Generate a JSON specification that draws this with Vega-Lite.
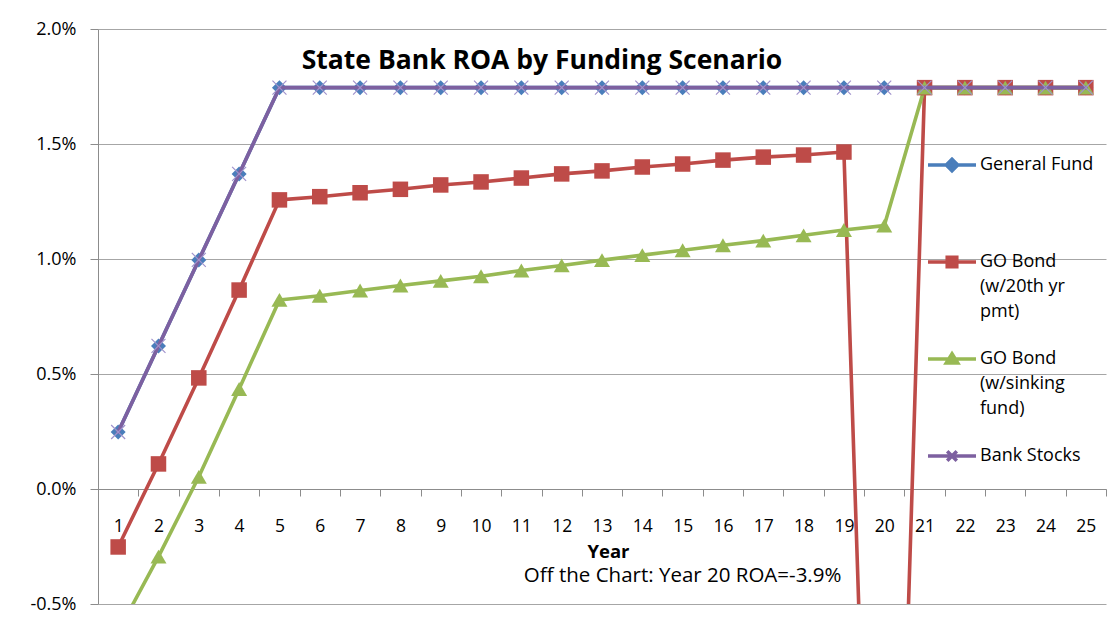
{
  "$schema": "https://vega.github.io/schema/vega-lite/v6.json",
  "width": 1008,
  "height": 575,
  "autosize": {"type": "none"},
  "padding": {"left": 98, "top": 29, "right": 9, "bottom": 27},
  "background": "white",
  "config": {"view": {"stroke": null}, "font": "Open Sans"},
  "title": {"text": "State Bank ROA by Funding Scenario", "font": "Open Sans", "fontSize": 26.5, "fontWeight": "bold", "color": "#000000", "anchor": "middle", "dx": -60, "dy": 38, "offset": -29, "baseline": "middle"},
  "data": {"values": [
    {"year": 1, "series": "General Fund", "roa": 0.00248},
    {"year": 2, "series": "General Fund", "roa": 0.00622},
    {"year": 3, "series": "General Fund", "roa": 0.00996},
    {"year": 4, "series": "General Fund", "roa": 0.0137},
    {"year": 5, "series": "General Fund", "roa": 0.01745},
    {"year": 6, "series": "General Fund", "roa": 0.01745},
    {"year": 7, "series": "General Fund", "roa": 0.01745},
    {"year": 8, "series": "General Fund", "roa": 0.01745},
    {"year": 9, "series": "General Fund", "roa": 0.01745},
    {"year": 10, "series": "General Fund", "roa": 0.01745},
    {"year": 11, "series": "General Fund", "roa": 0.01745},
    {"year": 12, "series": "General Fund", "roa": 0.01745},
    {"year": 13, "series": "General Fund", "roa": 0.01745},
    {"year": 14, "series": "General Fund", "roa": 0.01745},
    {"year": 15, "series": "General Fund", "roa": 0.01745},
    {"year": 16, "series": "General Fund", "roa": 0.01745},
    {"year": 17, "series": "General Fund", "roa": 0.01745},
    {"year": 18, "series": "General Fund", "roa": 0.01745},
    {"year": 19, "series": "General Fund", "roa": 0.01745},
    {"year": 20, "series": "General Fund", "roa": 0.01745},
    {"year": 21, "series": "General Fund", "roa": 0.01745},
    {"year": 22, "series": "General Fund", "roa": 0.01745},
    {"year": 23, "series": "General Fund", "roa": 0.01745},
    {"year": 24, "series": "General Fund", "roa": 0.01745},
    {"year": 25, "series": "General Fund", "roa": 0.01745},
    {"year": 1, "series": "GO Bond (w/20th yr pmt)", "roa": -0.00252},
    {"year": 2, "series": "GO Bond (w/20th yr pmt)", "roa": 0.00109},
    {"year": 3, "series": "GO Bond (w/20th yr pmt)", "roa": 0.00483},
    {"year": 4, "series": "GO Bond (w/20th yr pmt)", "roa": 0.00865},
    {"year": 5, "series": "GO Bond (w/20th yr pmt)", "roa": 0.01257},
    {"year": 6, "series": "GO Bond (w/20th yr pmt)", "roa": 0.01271},
    {"year": 7, "series": "GO Bond (w/20th yr pmt)", "roa": 0.01288},
    {"year": 8, "series": "GO Bond (w/20th yr pmt)", "roa": 0.01303},
    {"year": 9, "series": "GO Bond (w/20th yr pmt)", "roa": 0.01322},
    {"year": 10, "series": "GO Bond (w/20th yr pmt)", "roa": 0.01335},
    {"year": 11, "series": "GO Bond (w/20th yr pmt)", "roa": 0.01352},
    {"year": 12, "series": "GO Bond (w/20th yr pmt)", "roa": 0.0137},
    {"year": 13, "series": "GO Bond (w/20th yr pmt)", "roa": 0.01383},
    {"year": 14, "series": "GO Bond (w/20th yr pmt)", "roa": 0.014},
    {"year": 15, "series": "GO Bond (w/20th yr pmt)", "roa": 0.01413},
    {"year": 16, "series": "GO Bond (w/20th yr pmt)", "roa": 0.0143},
    {"year": 17, "series": "GO Bond (w/20th yr pmt)", "roa": 0.01443},
    {"year": 18, "series": "GO Bond (w/20th yr pmt)", "roa": 0.01452},
    {"year": 19, "series": "GO Bond (w/20th yr pmt)", "roa": 0.01465},
    {"year": 20, "series": "GO Bond (w/20th yr pmt)", "roa": -0.039},
    {"year": 21, "series": "GO Bond (w/20th yr pmt)", "roa": 0.01745},
    {"year": 22, "series": "GO Bond (w/20th yr pmt)", "roa": 0.01745},
    {"year": 23, "series": "GO Bond (w/20th yr pmt)", "roa": 0.01745},
    {"year": 24, "series": "GO Bond (w/20th yr pmt)", "roa": 0.01745},
    {"year": 25, "series": "GO Bond (w/20th yr pmt)", "roa": 0.01745},
    {"year": 1, "series": "GO Bond (w/sinking fund)", "roa": -0.0062},
    {"year": 2, "series": "GO Bond (w/sinking fund)", "roa": -0.00294},
    {"year": 3, "series": "GO Bond (w/sinking fund)", "roa": 0.00053},
    {"year": 4, "series": "GO Bond (w/sinking fund)", "roa": 0.00435},
    {"year": 5, "series": "GO Bond (w/sinking fund)", "roa": 0.00822},
    {"year": 6, "series": "GO Bond (w/sinking fund)", "roa": 0.0084},
    {"year": 7, "series": "GO Bond (w/sinking fund)", "roa": 0.00863},
    {"year": 8, "series": "GO Bond (w/sinking fund)", "roa": 0.00885},
    {"year": 9, "series": "GO Bond (w/sinking fund)", "roa": 0.00905},
    {"year": 10, "series": "GO Bond (w/sinking fund)", "roa": 0.00925},
    {"year": 11, "series": "GO Bond (w/sinking fund)", "roa": 0.0095},
    {"year": 12, "series": "GO Bond (w/sinking fund)", "roa": 0.00972},
    {"year": 13, "series": "GO Bond (w/sinking fund)", "roa": 0.00995},
    {"year": 14, "series": "GO Bond (w/sinking fund)", "roa": 0.01017},
    {"year": 15, "series": "GO Bond (w/sinking fund)", "roa": 0.01038},
    {"year": 16, "series": "GO Bond (w/sinking fund)", "roa": 0.0106},
    {"year": 17, "series": "GO Bond (w/sinking fund)", "roa": 0.0108},
    {"year": 18, "series": "GO Bond (w/sinking fund)", "roa": 0.01103},
    {"year": 19, "series": "GO Bond (w/sinking fund)", "roa": 0.01126},
    {"year": 20, "series": "GO Bond (w/sinking fund)", "roa": 0.01145},
    {"year": 21, "series": "GO Bond (w/sinking fund)", "roa": 0.01745},
    {"year": 22, "series": "GO Bond (w/sinking fund)", "roa": 0.01745},
    {"year": 23, "series": "GO Bond (w/sinking fund)", "roa": 0.01745},
    {"year": 24, "series": "GO Bond (w/sinking fund)", "roa": 0.01745},
    {"year": 25, "series": "GO Bond (w/sinking fund)", "roa": 0.01745},
    {"year": 1, "series": "Bank Stocks", "roa": 0.00248},
    {"year": 2, "series": "Bank Stocks", "roa": 0.00622},
    {"year": 3, "series": "Bank Stocks", "roa": 0.00996},
    {"year": 4, "series": "Bank Stocks", "roa": 0.0137},
    {"year": 5, "series": "Bank Stocks", "roa": 0.01745},
    {"year": 6, "series": "Bank Stocks", "roa": 0.01745},
    {"year": 7, "series": "Bank Stocks", "roa": 0.01745},
    {"year": 8, "series": "Bank Stocks", "roa": 0.01745},
    {"year": 9, "series": "Bank Stocks", "roa": 0.01745},
    {"year": 10, "series": "Bank Stocks", "roa": 0.01745},
    {"year": 11, "series": "Bank Stocks", "roa": 0.01745},
    {"year": 12, "series": "Bank Stocks", "roa": 0.01745},
    {"year": 13, "series": "Bank Stocks", "roa": 0.01745},
    {"year": 14, "series": "Bank Stocks", "roa": 0.01745},
    {"year": 15, "series": "Bank Stocks", "roa": 0.01745},
    {"year": 16, "series": "Bank Stocks", "roa": 0.01745},
    {"year": 17, "series": "Bank Stocks", "roa": 0.01745},
    {"year": 18, "series": "Bank Stocks", "roa": 0.01745},
    {"year": 19, "series": "Bank Stocks", "roa": 0.01745},
    {"year": 20, "series": "Bank Stocks", "roa": 0.01745},
    {"year": 21, "series": "Bank Stocks", "roa": 0.01745},
    {"year": 22, "series": "Bank Stocks", "roa": 0.01745},
    {"year": 23, "series": "Bank Stocks", "roa": 0.01745},
    {"year": 24, "series": "Bank Stocks", "roa": 0.01745},
    {"year": 25, "series": "Bank Stocks", "roa": 0.01745}
  ]},
  "encoding": {
    "x": {
      "field": "year", "type": "ordinal",
      "scale": {"type": "band", "paddingInner": 0, "paddingOuter": 0},
      "axis": {
        "title": "Year", "orient": "bottom", "offset": -115, "tickBand": "extent",
        "labelAngle": 0, "labelFontSize": 17.5, "labelColor": "#000000", "labelPadding": 21,
        "tickSize": 7, "tickColor": "#8c8c8c", "domainColor": "#8c8c8c", "grid": false,
        "titleFontSize": 18.5, "titleFontWeight": "bold", "titleColor": "#000000",
        "titleX": 510, "titleY": 62, "titleBaseline": "middle", "titleAlign": "center"
      }
    },
    "y": {
      "field": "roa", "type": "quantitative",
      "scale": {"domain": [-0.005, 0.02], "nice": false, "zero": false},
      "axis": {
        "title": null, "values": [-0.005, 0, 0.005, 0.01, 0.015, 0.02],
        "labelExpr": "(datum.value < 0 ? '-' : '') + format(abs(datum.value), '.1%')",
        "labelFontSize": 18, "labelColor": "#000000", "labelPadding": 14, "labelFlush": false,
        "tickSize": 8, "tickColor": "#8c8c8c", "domainColor": "#8c8c8c",
        "grid": true, "gridColor": "#a6a6a6"
      }
    },
    "color": {
      "field": "series", "type": "nominal",
      "scale": {
        "domain": ["General Fund", "GO Bond (w/20th yr pmt)", "GO Bond (w/sinking fund)", "Bank Stocks"],
        "range": ["#4a7ebb", "#be4b48", "#98b954", "#7d60a0"]
      },
      "legend": {
        "orient": "none", "legendX": 828, "legendY": 110, "title": null, "padding": 0,
        "symbolSize": 2304, "symbolStrokeWidth": 3.5, "labelFontSize": 18, "labelColor": "#000000",
        "labelOffset": 2, "rowPadding": 12, "gridAlign": "all", "labelLimit": 300, "labelBaseline": "middle",
        "labelExpr": "datum.label == 'GO Bond (w/20th yr pmt)' ? ['GO Bond', '(w/20th yr', 'pmt)'] : datum.label == 'GO Bond (w/sinking fund)' ? ['GO Bond', '(w/sinking', 'fund)'] : datum.label",
        "encode": {
          "symbols": {"update": {
            "shape": {"signal": "datum.value == 'General Fund' ? 'M-1,0H1M0,-0.24L0.24,0L0,0.24L-0.24,0Z' : datum.value == 'GO Bond (w/20th yr pmt)' ? 'M-1,0H1M-0.2,-0.2H0.2V0.2H-0.2Z' : datum.value == 'GO Bond (w/sinking fund)' ? 'M-1,0H1M0,-0.22L0.24,0.17L-0.24,0.17Z' : 'M-1,0H1M-0.2,-0.2L0.2,0.2M0.2,-0.2L-0.2,0.2'"},
            "fill": {"scale": "color", "field": "value"},
            "stroke": {"scale": "color", "field": "value"},
            "strokeWidth": {"value": 3.5},
            "opacity": {"value": 1}
          }},
          "labels": {"update": {"lineHeight": {"value": 25}}}
        }
      }
    }
  },
  "layer": [
    {
      "transform": [{"filter": "datum.series != 'Bank Stocks'"}],
      "mark": {"type": "line", "strokeWidth": 3.6, "strokeCap": "round", "strokeJoin": "round", "clip": true}
    },
    {
      "transform": [{"filter": "datum.series != 'Bank Stocks'"}],
      "mark": {"type": "point", "filled": true, "opacity": 1, "clip": true},
      "encoding": {
        "shape": {"field": "series", "type": "nominal", "legend": null,
          "scale": {"domain": ["General Fund", "GO Bond (w/20th yr pmt)", "GO Bond (w/sinking fund)"], "range": ["diamond", "square", "triangle-up"]}},
        "size": {"field": "series", "type": "nominal", "legend": null,
          "scale": {"domain": ["General Fund", "GO Bond (w/20th yr pmt)", "GO Bond (w/sinking fund)"], "range": [225, 256, 210]}}
      }
    },
    {
      "transform": [{"filter": "datum.series == 'Bank Stocks'"}],
      "mark": {"type": "line", "strokeWidth": 3.6, "strokeCap": "round", "strokeJoin": "round", "clip": true}
    },
    {
      "transform": [{"filter": "datum.series == 'Bank Stocks'"}],
      "mark": {"type": "point", "shape": "M-1,-1L1,1M1,-1L-1,1", "filled": false, "size": 196, "strokeWidth": 1.2, "opacity": 1, "clip": true},
      "encoding": {"color": {"value": "#a092cc"}}
    },
    {
      "transform": [{"filter": "datum.year == 15 && datum.series == 'General Fund'"}],
      "mark": {"type": "text", "text": "Off the Chart: Year 20 ROA=-3.9%", "fontSize": 20.5, "font": "Open Sans", "align": "center", "baseline": "middle", "fill": "#000000"},
      "encoding": {
        "y": {"datum": -0.0038},
        "color": {"value": "#000000"}
      }
    }
  ]
}
